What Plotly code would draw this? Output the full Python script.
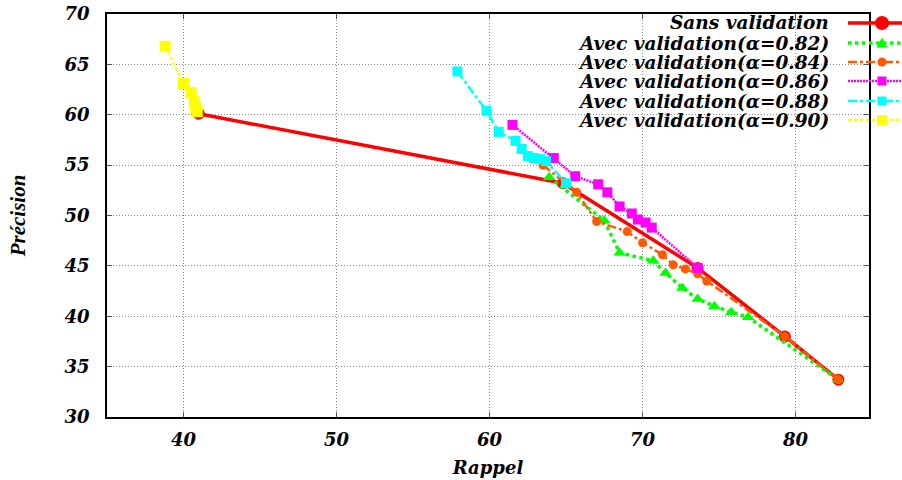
import plotly.graph_objects as go

# ---- data ----
sans_x = [41.0, 64.8, 73.6, 79.3, 82.8]
sans_y = [60.1, 53.2, 44.8, 38.0, 33.7]

a082_x = [63.9, 67.5, 68.5, 70.7, 71.5, 72.6, 73.6, 74.7, 75.8, 76.9, 82.8]
a082_y = [53.8, 49.5, 46.3, 45.5, 44.3, 42.8, 41.7, 41.0, 40.4, 39.9, 33.7]

a084_x = [63.5, 65.7, 67.0, 69.0, 70.0, 71.3, 72.0, 72.8, 73.6, 74.2, 79.3, 82.8]
a084_y = [55.0, 52.3, 49.4, 48.4, 47.3, 46.1, 45.1, 44.7, 44.2, 43.5, 38.0, 33.7]

a086_x = [61.5, 64.2, 65.6, 67.1, 67.7, 68.5, 69.3, 69.7, 70.2, 70.6, 73.6]
a086_y = [59.0, 55.7, 53.9, 53.1, 52.3, 50.9, 50.2, 49.6, 49.3, 48.8, 44.8]

a088_x = [57.9, 59.8, 60.6, 61.7, 62.1, 62.5, 62.9, 63.3, 63.7, 65.0]
a088_y = [64.3, 60.4, 58.3, 57.4, 56.6, 55.9, 55.7, 55.6, 55.4, 53.2]

a090_x = [38.8, 40.0, 40.5, 40.7, 40.8, 40.9]
a090_y = [66.8, 63.1, 62.2, 61.3, 60.7, 60.3]

x_ticks = [40, 50, 60, 70, 80]
y_ticks = [30, 35, 40, 45, 50, 55, 60, 65, 70]

labels = ["Sans validation",
          "Avec validation(α=0.82)",
          "Avec validation(α=0.84)",
          "Avec validation(α=0.86)",
          "Avec validation(α=0.88)",
          "Avec validation(α=0.90)"]

series = [(sans_x, sans_y), (a082_x, a082_y), (a084_x, a084_y),
          (a086_x, a086_y), (a088_x, a088_y), (a090_x, a090_y)]

styles = [
    dict(color="#ff0000", dash="solid", width=3.5, symbol="circle", size=12),
    dict(color="#00ff00", dash="dot", width=3.5, symbol="triangle-up", size=11),
    dict(color="#ff5a00", dash="dashdot", width=2.5, symbol="circle", size=9),
    dict(color="#ff00ff", dash="2px,1px", width=2.5, symbol="square", size=10),
    dict(color="#00ffff", dash="dashdot", width=2.5, symbol="square", size=10),
    dict(color="#ffff00", dash="dot", width=2.5, symbol="square", size=11),
]

W, H = 902, 480
L, R, T, B = 107, 33, 14, 63
pw, ph = W - L - R, H - T - B


def px(xp):
    return (xp - L) / pw


def py(yp):
    return 1 - (yp - T) / ph


fig = go.Figure()
for (xs, ys), lab, st in zip(series, labels, styles):
    fig.add_trace(go.Scatter(
        x=xs, y=ys, mode="lines+markers", name=lab, showlegend=False,
        line=dict(color=st["color"], dash=st["dash"], width=st["width"]),
        marker=dict(color=st["color"], symbol=st["symbol"], size=st["size"],
                    line=dict(width=0)),
    ))

shapes = []
annotations = []
# legend background
shapes.append(dict(type="rect", xref="paper", yref="paper", layer="between",
                   x0=px(482), x1=1, y0=py(132), y1=1,
                   fillcolor="white", line=dict(width=0)))
rows = [23, 43, 62, 81, 101, 120]
for lab, st, ry in zip(labels, styles, rows):
    annotations.append(dict(
        xref="paper", yref="paper", x=px(831), y=py(ry), xanchor="right",
        yanchor="middle", showarrow=False, text="<b><i>%s</i></b>" % lab,
        font=dict(family="DejaVu Serif", size=18.5, color="black")))
    shapes.append(dict(type="line", xref="paper", yref="paper", layer="above",
                       x0=px(848), x1=px(902), y0=py(ry), y1=py(ry),
                       line=dict(color=st["color"], dash=st["dash"], width=st["width"])))
    cx, cy = 882, ry
    r = st["size"] / 2 + (1 if st["symbol"] == "circle" and st["size"] > 10 else 0)
    if st["symbol"] == "circle":
        shapes.append(dict(type="circle", xref="paper", yref="paper", layer="above",
                           x0=px(cx - r), x1=px(cx + r), y0=py(cy + r), y1=py(cy - r),
                           fillcolor=st["color"], line=dict(width=0)))
    elif st["symbol"] == "square":
        shapes.append(dict(type="rect", xref="paper", yref="paper", layer="above",
                           x0=px(cx - r * 0.9), x1=px(cx + r * 0.9),
                           y0=py(cy + r * 0.9), y1=py(cy - r * 0.9),
                           fillcolor=st["color"], line=dict(width=0)))
    else:
        path = "M %f,%f L %f,%f L %f,%f Z" % (px(cx - r), py(cy + r * 0.8),
                                              px(cx + r), py(cy + r * 0.8),
                                              px(cx), py(cy - r))
        shapes.append(dict(type="path", xref="paper", yref="paper", layer="above",
                           path=path, fillcolor=st["color"], line=dict(width=0)))

tickfont = dict(family="DejaVu Serif", size=18, color="black")
fig.update_layout(
    width=W, height=H,
    margin=dict(l=L, r=R, t=T, b=B, autoexpand=False),
    paper_bgcolor="white", plot_bgcolor="white",
    shapes=shapes, annotations=annotations,
    xaxis=dict(range=[35, 84.8], tickvals=x_ticks, automargin=False,
               ticktext=["<b><i>%d</i></b>" % v for v in x_ticks],
               tickfont=tickfont, showgrid=True, gridcolor="#8c8c8c",
               griddash="1px,2px", gridwidth=1, zeroline=False,
               showline=True, linecolor="black", linewidth=1.5, mirror="ticks",
               ticks="inside", ticklen=5, tickcolor="#555", ticklabelstandoff=6,
               title=dict(text="<b><i>Rappel</i></b>", standoff=12,
                          font=dict(family="DejaVu Serif", size=18, color="black"))),
    yaxis=dict(range=[30, 70], tickvals=y_ticks, automargin=False,
               ticktext=["<b><i>%d</i></b>" % v for v in y_ticks],
               tickfont=tickfont, showgrid=True, gridcolor="#8c8c8c",
               griddash="1px,2px", gridwidth=1, zeroline=False,
               showline=True, linecolor="black", linewidth=1.5, mirror="ticks",
               ticks="inside", ticklen=5, tickcolor="#555", ticklabelstandoff=12,
               title=dict(text="<b><i>Précision</i></b>", standoff=33,
                          font=dict(family="Liberation Serif", size=21, color="black"))),
)

fig.write_html("out.html")
